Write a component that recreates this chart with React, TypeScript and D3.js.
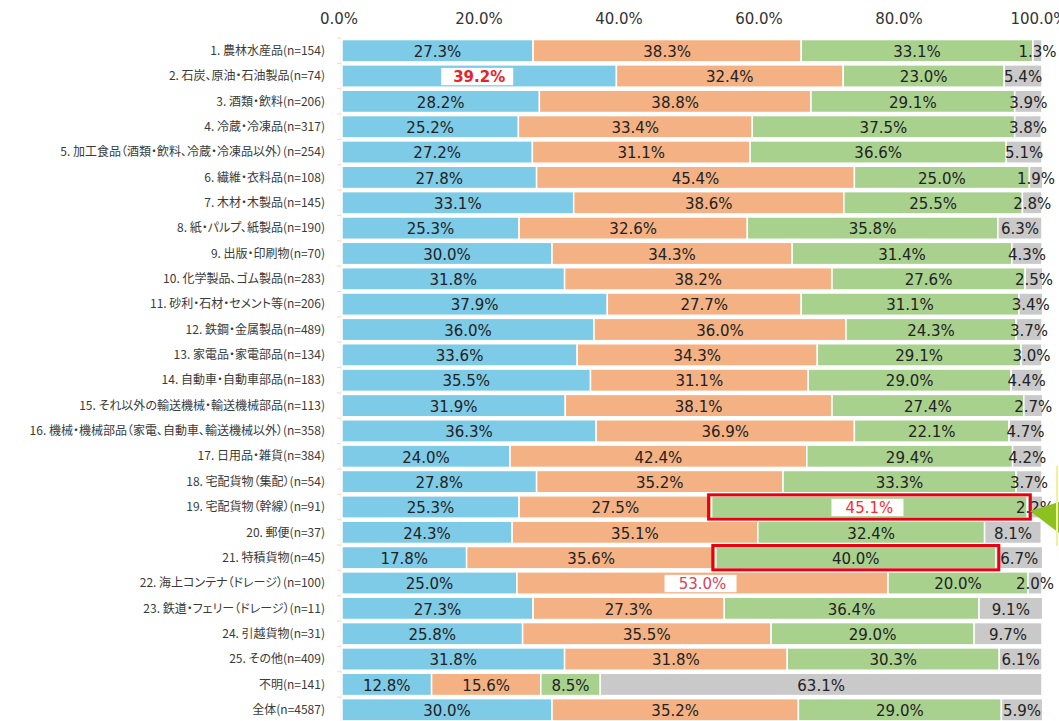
import React, { useEffect, useRef } from 'react';
import * as d3 from 'd3';

const categories = [
  '1. 農林水産品(n=154)',
  '2. 石炭、原油・石油製品(n=74)',
  '3. 酒類・飲料(n=206)',
  '4. 冷蔵・冷凍品(n=317)',
  '5. 加工食品（酒類・飲料、冷蔵・冷凍品以外）(n=254)',
  '6. 繊維・衣料品(n=108)',
  '7. 木材・木製品(n=145)',
  '8. 紙・パルプ、紙製品(n=190)',
  '9. 出版・印刷物(n=70)',
  '10. 化学製品、ゴム製品(n=283)',
  '11. 砂利・石材・セメント等(n=206)',
  '12. 鉄鋼・金属製品(n=489)',
  '13. 家電品・家電部品(n=134)',
  '14. 自動車・自動車部品(n=183)',
  '15. それ以外の輸送機械・輸送機械部品(n=113)',
  '16. 機械・機械部品（家電、自動車、輸送機械以外）(n=358)',
  '17. 日用品・雑貨(n=384)',
  '18. 宅配貨物（集配）(n=54)',
  '19. 宅配貨物（幹線）(n=91)',
  '20. 郵便(n=37)',
  '21. 特積貨物(n=45)',
  '22. 海上コンテナ（ドレージ）(n=100)',
  '23. 鉄道・フェリー（ドレージ）(n=11)',
  '24. 引越貨物(n=31)',
  '25. その他(n=409)',
  '不明(n=141)',
  '全体(n=4587)',
];

const series1 = [27.3, 39.2, 28.2, 25.2, 27.2, 27.8, 33.1, 25.3, 30.0, 31.8, 37.9, 36.0, 33.6, 35.5, 31.9, 36.3, 24.0, 27.8, 25.3, 24.3, 17.8, 25.0, 27.3, 25.8, 31.8, 12.8, 30.0];
const series2 = [38.3, 32.4, 38.8, 33.4, 31.1, 45.4, 38.6, 32.6, 34.3, 38.2, 27.7, 36.0, 34.3, 31.1, 38.1, 36.9, 42.4, 35.2, 27.5, 35.1, 35.6, 53.0, 27.3, 35.5, 31.8, 15.6, 35.2];
const series3 = [33.1, 23.0, 29.1, 37.5, 36.6, 25.0, 25.5, 35.8, 31.4, 27.6, 31.1, 24.3, 29.1, 29.0, 27.4, 22.1, 29.4, 33.3, 45.1, 32.4, 40.0, 20.0, 36.4, 29.0, 30.3, 8.5, 29.0];
const series4 = [1.3, 5.4, 3.9, 3.8, 5.1, 1.9, 2.8, 6.3, 4.3, 2.5, 3.4, 3.7, 3.0, 4.4, 2.7, 4.7, 4.2, 3.7, 2.2, 8.1, 6.7, 2.0, 9.1, 9.7, 6.1, 63.1, 5.9];

const tickValues = [0, 20, 40, 60, 80, 100];

// highlighted labels: [row, series]
const highlights = [
  { row: 1, s: 0, color: '#e8212b', bold: true },
  { row: 18, s: 2, color: '#ff2b2b', bold: false },
  { row: 21, s: 1, color: '#d9435c', bold: false },
];
// red frames around a segment: [row, series]
const frames = [
  { row: 18, s: 2 },
  { row: 20, s: 2 },
];

const colors = ['#7ecbe7', '#f4b183', '#a9d18e', '#c9c9c9'];

export default function App() {
  const ref = useRef<SVGSVGElement>(null);

  useEffect(() => {
    const width = 1059;
    const height = 721;
    const margin = { top: 38, left: 342, right: 17, bottom: 0 };

    const svg = d3.select(ref.current);
    svg.selectAll('*').remove();
    svg.attr('width', width).attr('height', height);

    const x = d3.scaleLinear().domain([0, 100]).range([margin.left, width - margin.right]);
    const y = d3
      .scaleBand()
      .domain(categories)
      .range([margin.top, margin.top + categories.length * 25.35])
      .paddingInner(0.12)
      .paddingOuter(0.06);

    const rows = categories.map((c, i) => {
      const vals = [series1[i], series2[i], series3[i], series4[i]];
      let acc = 0;
      return vals.map((v, s) => {
        const seg = { cat: c, row: i, s, v, x0: acc, x1: acc + v };
        acc += v;
        return seg;
      });
    });
    const segs = rows.flat();

    // axis labels
    svg
      .append('g')
      .selectAll('text')
      .data(tickValues)
      .enter()
      .append('text')
      .attr('x', (d) => x(d) - 3)
      .attr('y', 24)
      .attr('text-anchor', 'middle')
      .style('font-family', 'DejaVu Sans, sans-serif')
      .style('font-size', '15px')
      .style('fill', '#333')
      .text((d) => d.toFixed(1) + '%');

    // left axis line + small ticks
    svg
      .append('line')
      .attr('x1', x(0) - 1)
      .attr('x2', x(0) - 1)
      .attr('y1', margin.top)
      .attr('y2', height)
      .style('stroke', '#eee');
    const step = y.step();
    svg
      .append('g')
      .selectAll('line')
      .data(categories)
      .enter()
      .append('line')
      .attr('x1', x(0) - 5)
      .attr('x2', x(0) - 1)
      .attr('y1', (d) => (y(d) as number) - (step - y.bandwidth()) / 2)
      .attr('y2', (d) => (y(d) as number) - (step - y.bandwidth()) / 2)
      .style('stroke', '#f3d9c6');

    // category labels
    svg
      .append('g')
      .selectAll('text')
      .data(categories)
      .enter()
      .append('text')
      .attr('x', 325)
      .attr('y', (d) => (y(d) as number) + y.bandwidth() / 2)
      .attr('dy', '0.35em')
      .attr('text-anchor', 'end')
      .style('font-family', '"Noto Sans CJK JP", sans-serif')
      .style('font-size', '12px')
      .style('font-feature-settings', '"palt"')
      .style('fill', '#3a3a3a')
      .text((d) => d);

    // bars
    svg
      .append('g')
      .selectAll('rect')
      .data(segs)
      .enter()
      .append('rect')
      .attr('x', (d) => x(d.x0))
      .attr('y', (d) => y(d.cat) as number)
      .attr('width', (d) => x(d.x1) - x(d.x0))
      .attr('height', y.bandwidth())
      .style('fill', (d) => colors[d.s])
      .style('stroke', '#fff')
      .style('stroke-width', 1.5);

    // white boxes behind highlighted labels
    const hl = (d: any) => highlights.find((h) => h.row === d.row && h.s === d.s);
    svg
      .append('g')
      .selectAll('rect')
      .data(segs.filter((d) => hl(d)))
      .enter()
      .append('rect')
      .attr('x', (d) => (x(d.x0) + x(d.x1)) / 2 - 38)
      .attr('y', (d) => (y(d.cat) as number) + 3)
      .attr('width', 72)
      .attr('height', y.bandwidth() - 5)
      .style('fill', '#fff');

    // value labels
    svg
      .append('g')
      .selectAll('text')
      .data(segs)
      .enter()
      .append('text')
      .attr('x', (d) => (x(d.x0) + x(d.x1)) / 2)
      .attr('y', (d) => (y(d.cat) as number) + y.bandwidth() / 2 + 1)
      .attr('dy', '0.35em')
      .attr('text-anchor', 'middle')
      .style('font-family', 'DejaVu Sans, sans-serif')
      .style('font-size', '15px')
      .style('font-weight', (d) => (hl(d)?.bold ? 'bold' : 'normal'))
      .style('fill', (d) => (hl(d) ? hl(d)!.color : '#222'))
      .text((d) => d.v.toFixed(1) + '%');

    // red frames
    svg
      .append('g')
      .selectAll('rect')
      .data(segs.filter((d) => frames.some((f) => f.row === d.row && f.s === d.s)))
      .enter()
      .append('rect')
      .attr('x', (d) => x(d.x0) - 3)
      .attr('y', (d) => (y(d.cat) as number) - 1)
      .attr('width', (d) => x(d.x1) - x(d.x0) + 6)
      .attr('height', y.bandwidth() + 2)
      .style('fill', 'none')
      .style('stroke', '#e60012')
      .style('stroke-width', 3);

    // callout arrow going off the right edge
    const ya = (y(categories[18]) as number) + y.bandwidth() / 2 + 4;
    svg
      .append('polygon')
      .attr('points', `${x(100) - 12},${ya} ${width},${ya - 9} ${width},${ya + 22}`)
      .style('fill', '#8cc11f');
    svg
      .append('line')
      .attr('x1', width - 2)
      .attr('x2', width - 2)
      .attr('y1', ya - 45)
      .attr('y2', ya + 35)
      .style('stroke', '#f5f0a0')
      .style('stroke-width', 2);
  }, []);

  return (
    <div style={{ position: 'absolute', left: 0, top: 0, width: 1059, height: 721, overflow: 'hidden', background: '#fff' }}>
      <svg ref={ref}></svg>
    </div>
  );
}
